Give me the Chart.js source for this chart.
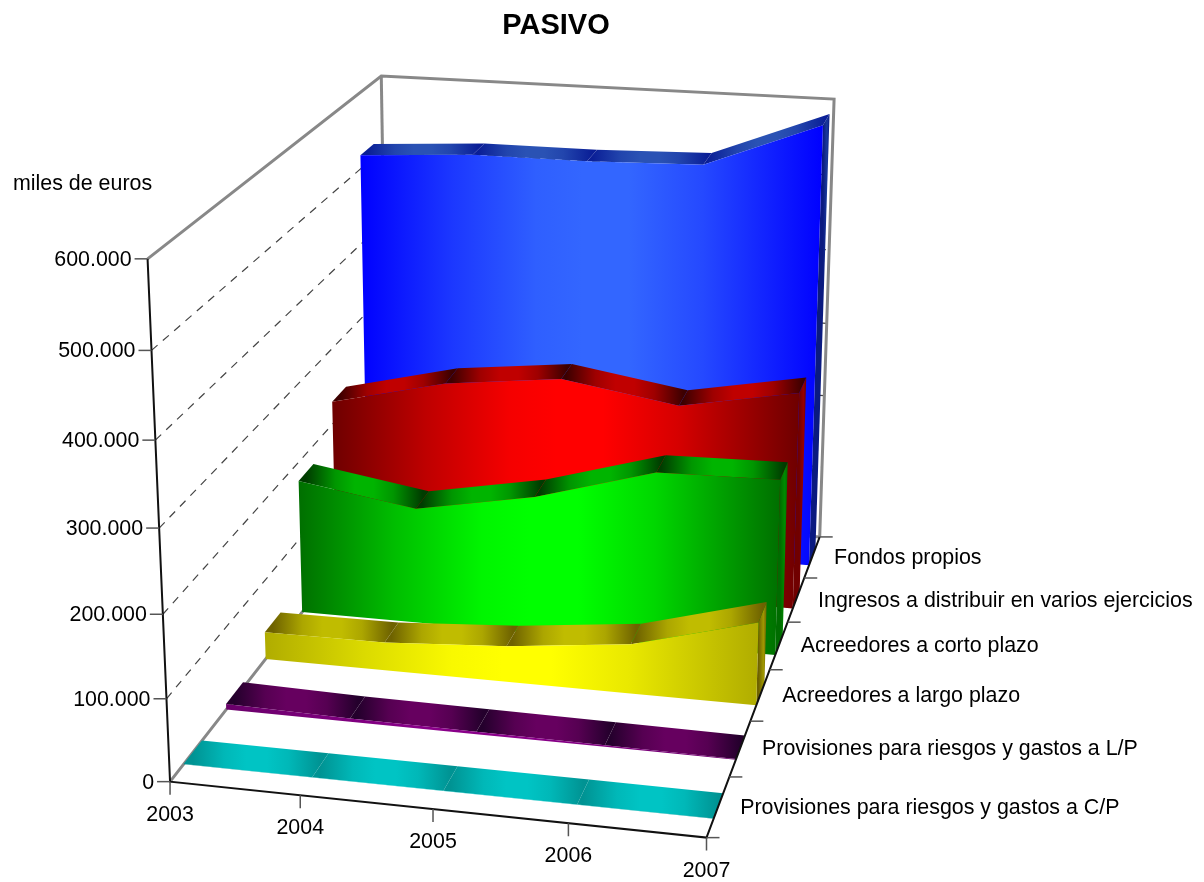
<!DOCTYPE html>
<html>
<head>
<meta charset="utf-8">
<title>PASIVO</title>
<script src="https://cdn.jsdelivr.net/npm/chart.js@4/dist/chart.umd.min.js"></script>
<style>body{margin:0;background:#fff}canvas{display:block}</style>
</head>
<body>
<canvas id="c" width="1204" height="882"></canvas>
<script>
// values in miles de euros
const years = ['2003', '2004', '2005', '2006', '2007'];
const categories = [
  'Provisiones para riesgos y gastos a C/P',
  'Provisiones para riesgos y gastos a L/P',
  'Acreedores a largo plazo',
  'Acreedores a corto plazo',
  'Ingresos a distribuir en varios ejercicios',
  'Fondos propios'
];
const provisionesCP = [0.3, 0.3, 0.3, 0.3, 0.3];
const provisionesLP = [7, 4, 3, 2, 1];
const acreedoresLP = [35, 36, 46, 63, 105];
const acreedoresCP = [176, 152, 180, 224, 227];
const ingresos = [230, 266, 283, 259, 287];
const fondosPropios = [518, 527, 527, 531, 590];
const seriesValues = [provisionesCP, provisionesLP, acreedoresLP, acreedoresCP, ingresos, fondosPropios];
const yTicks = [0, 100, 200, 300, 400, 500, 600];
const yTickLabels = ['0', '100.000', '200.000', '300.000', '400.000', '500.000', '600.000'];

// colours: face edge, face middle, ribbon seam, ribbon middle, side dark, side light
const palette = [
  { edge: [0, 144, 144], mid: [0, 196, 196], seam: [0, 147, 147], top: [0, 196, 196], sideA: '#007f7f', sideB: '#00a0a0' },
  { edge: [106, 0, 106], mid: [138, 0, 138], seam: [36, 0, 44], top: [102, 0, 95], sideA: '#2c002c', sideB: '#5a005a' },
  { edge: [176, 172, 0], mid: [255, 255, 0], seam: [110, 98, 0], top: [192, 188, 0], sideA: '#6e6200', sideB: '#a09800' },
  { edge: [0, 111, 0], mid: [0, 255, 0], seam: [0, 60, 0], top: [0, 180, 0], sideA: '#006c00', sideB: '#008c00' },
  { edge: [110, 0, 0], mid: [255, 0, 0], seam: [60, 0, 0], top: [192, 0, 0], sideA: '#700000', sideB: '#980000' },
  { edge: [0, 0, 255], mid: [51, 102, 255], seam: [10, 30, 150], top: [42, 82, 180], sideA: '#0a1a80', sideB: '#1a3a9c' }
];
const faceCurve = [[0, 0], [0.2, 0.55], [0.38, 0.93], [0.48, 1], [0.58, 1], [0.74, 0.72], [1, 0]];
const ribbonCurve = [[0, 0], [0.25, 0.75], [0.42, 1], [0.58, 1], [0.75, 0.75], [1, 0]];

// camera: fitted from where the box corners and ticks sit in the canvas
const anchors = [
  [0, 0, 0, 170, 781.7], [1, 0, 0, 706, 837.5], [0, 1, 0, 147.3, 259], [1, 0, 1, 819.3, 537], [0, 1, 1, 381, 76], [1, 1, 1, 834.3, 99.3],
  [.25, 0, 0, 300.3, 796], [.5, 0, 0, 432.7, 809.3], [.75, 0, 0, 568, 823],
  [1, 0, 1 / 6, 729.3, 777], [1, 0, 2 / 6, 750.7, 721], [1, 0, 3 / 6, 770, 670], [1, 0, 4 / 6, 788.3, 622], [1, 0, 5 / 6, 804, 577.7],
  [0, 1 / 6, 0, 166.7, 698.3], [0, 2 / 6, 0, 163.3, 614.3], [0, 5 / 6, 0, 151.7, 350]
];

function fitCamera() {
  const n = 11;
  const M = Array.from({ length: n }, () => new Array(n + 1).fill(0));
  const add = (r, b) => {
    for (let i = 0; i < n; i++) {
      for (let j = 0; j < n; j++) M[i][j] += r[i] * r[j];
      M[i][n] += r[i] * b;
    }
  };
  anchors.forEach(([X, Y, Z, u, v]) => {
    add([X, Y, Z, 1, 0, 0, 0, 0, -u * X, -u * Y, -u * Z], u);
    add([0, 0, 0, 0, X, Y, Z, 1, -v * X, -v * Y, -v * Z], v);
  });
  for (let i = 0; i < n; i++) {
    let p = i;
    for (let k = i + 1; k < n; k++) if (Math.abs(M[k][i]) > Math.abs(M[p][i])) p = k;
    [M[i], M[p]] = [M[p], M[i]];
    for (let k = 0; k < n; k++) {
      if (k === i) continue;
      const f = M[k][i] / M[i][i];
      for (let j = i; j <= n; j++) M[k][j] -= f * M[i][j];
    }
  }
  return M.map((r, i) => r[n] / r[i]);
}
const P = fitCamera();
const project = (X, Y, Z) => {
  const w = P[8] * X + P[9] * Y + P[10] * Z + 1;
  return { x: (P[0] * X + P[1] * Y + P[2] * Z + P[3]) / w, y: (P[4] * X + P[5] * Y + P[6] * Z + P[7]) / w };
};
const yMax = 600;
const frontDepth = 0.3;
const backDepth = 0.72;
const toX = k => k / (years.length - 1);

const datasets = [];
const painters = [];
function addLine(points, color, width, dash) {
  datasets.push({ data: points, showLine: true, pointRadius: 0, borderColor: color, borderWidth: width, borderDash: dash || [], fill: false });
}
function addShape(points, painter) {
  const d = { data: points, showLine: true, pointRadius: 0, borderWidth: 0, borderColor: 'rgba(0,0,0,0)', backgroundColor: '#000', fill: 'shape' };
  datasets.push(d);
  painters.push([d, painter]);
}
const mix = (a, b, t) => `rgb(${a.map((v, i) => Math.round(v + (b[i] - v) * t)).join(',')})`;
const curveStops = (curve, a, b) => curve.map(([s, t]) => [s, mix(a, b, t)]);
// left to right gradient between two data x values
function sideways(chart, fromX, toXValue, stops) {
  const sx = chart.scales.x;
  const g = chart.ctx.createLinearGradient(sx.getPixelForValue(fromX), 0, sx.getPixelForValue(toXValue), 0);
  stops.forEach(([s, col]) => g.addColorStop(s, col));
  return g;
}

// box walls and grid
const gridValues = yTicks.slice(1, -1);
gridValues.forEach(v => {
  addLine([project(0, v / yMax, 0), project(0, v / yMax, 1)], '#444', 1.2, [8, 7]);
  addLine([project(0, v / yMax, 1), project(1, v / yMax, 1)], '#444', 1.2, [8, 7]);
});
addLine([project(0, 0, 0), project(0, 0, 1), project(1, 0, 1)], '#888', 3);
addLine([project(0, 1, 0), project(0, 1, 1), project(1, 1, 1), project(1, 0, 1)], '#888', 3);
addLine([project(0, 1, 1), project(0, 0, 1)], '#888', 3);

// series, from the back of the box to the front
for (let i = seriesValues.length - 1; i >= 0; i--) {
  const values = seriesValues[i];
  const pal = palette[i];
  const zf = (i + frontDepth) / categories.length;
  const zb = (i + backDepth) / categories.length;
  const last = values.length - 1;
  const yOf = v => v / yMax;

  // right end
  const sideF = project(1, yOf(values[last]), zf);
  const sideB = project(1, yOf(values[last]), zb);
  addShape(
    [project(1, 0, zf), sideF, sideB, project(1, 0, zb)],
    chart => sideways(chart, sideF.x, sideB.x, [[0, pal.sideA], [0.6, pal.sideB], [1, pal.sideA]])
  );

  // top ribbon, one strip per year
  for (let k = 0; k < last; k++) {
    const a = project(toX(k), yOf(values[k]), zf);
    const b = project(toX(k + 1), yOf(values[k + 1]), zf);
    const c = project(toX(k + 1), yOf(values[k + 1]), zb);
    const d = project(toX(k), yOf(values[k]), zb);
    addShape([a, b, c, d], chart => sideways(chart, (a.x + d.x) / 2, (b.x + c.x) / 2, curveStops(ribbonCurve, pal.seam, pal.top)));
  }

  // front face
  const top = values.map((v, k) => project(toX(k), yOf(v), zf));
  const bottom = values.map((v, k) => project(toX(k), 0, zf)).reverse();
  addShape(top.concat(bottom), chart => sideways(chart, top[0].x, top[last].x, curveStops(faceCurve, pal.edge, pal.mid)));
}

// axes and ticks
const axisColor = '#111';
const tickColor = '#555';
addLine([project(0, 1, 0), project(0, 0, 0), project(1, 0, 0), project(1, 0, 1)], axisColor, 2);
years.forEach((y, k) => {
  const p = project(toX(k), 0, 0);
  addLine([p, { x: p.x, y: p.y + 13 }], tickColor, 1.5);
});
yTicks.forEach(v => {
  const p = project(0, v / yMax, 0);
  addLine([{ x: p.x - 13, y: p.y }, p], tickColor, 1.5);
});
for (let i = 0; i <= categories.length; i++) {
  const p = project(1, 0, i / categories.length);
  addLine([p, { x: p.x + 13, y: p.y }], tickColor, 1.5);
}
datasets.forEach((d, i) => { d.order = -i; });

const paintPlugin = {
  id: 'paint',
  beforeDatasetsUpdate(chart) {
    painters.forEach(([d, painter]) => { d.backgroundColor = painter(chart); });
  }
};

const labelsPlugin = {
  id: 'labels',
  afterDraw(chart) {
    const { ctx, scales: { x: sx, y: sy } } = chart;
    const text = (s, px, py, align) => {
      ctx.textAlign = align;
      ctx.fillText(s, sx.getPixelForValue(px), sy.getPixelForValue(py));
    };
    ctx.save();
    ctx.fillStyle = '#000';
    ctx.textBaseline = 'middle';
    ctx.font = 'bold 29px "Liberation Sans", Arial, sans-serif';
    text('PASIVO', 556, 26, 'center');
    ctx.font = '21.4px "Liberation Sans", Arial, sans-serif';
    text('miles de euros', 13, 184, 'left');
    yTicks.forEach((v, i) => {
      const p = project(0, v / yMax, 0);
      text(yTickLabels[i], p.x - 16, p.y + 1, 'right');
    });
    years.forEach((y, k) => {
      const p = project(toX(k), 0, 0);
      text(y, p.x, p.y + 33, 'center');
    });
    categories.forEach((name, i) => {
      const p = project(1, 0, (i + 0.5) / categories.length);
      text(name, p.x + 22, p.y + 1, 'left');
    });
    ctx.restore();
  }
};

new Chart(document.getElementById('c'), {
  type: 'scatter',
  data: { datasets },
  options: {
    responsive: false,
    animation: false,
    layout: { padding: 0 },
    plugins: { legend: { display: false }, tooltip: { enabled: false }, title: { display: false } },
    scales: {
      x: { display: false, min: 0, max: 1204 },
      y: { display: false, min: 0, max: 882, reverse: true }
    }
  },
  plugins: [paintPlugin, labelsPlugin]
});
</script>
</body>
</html>
